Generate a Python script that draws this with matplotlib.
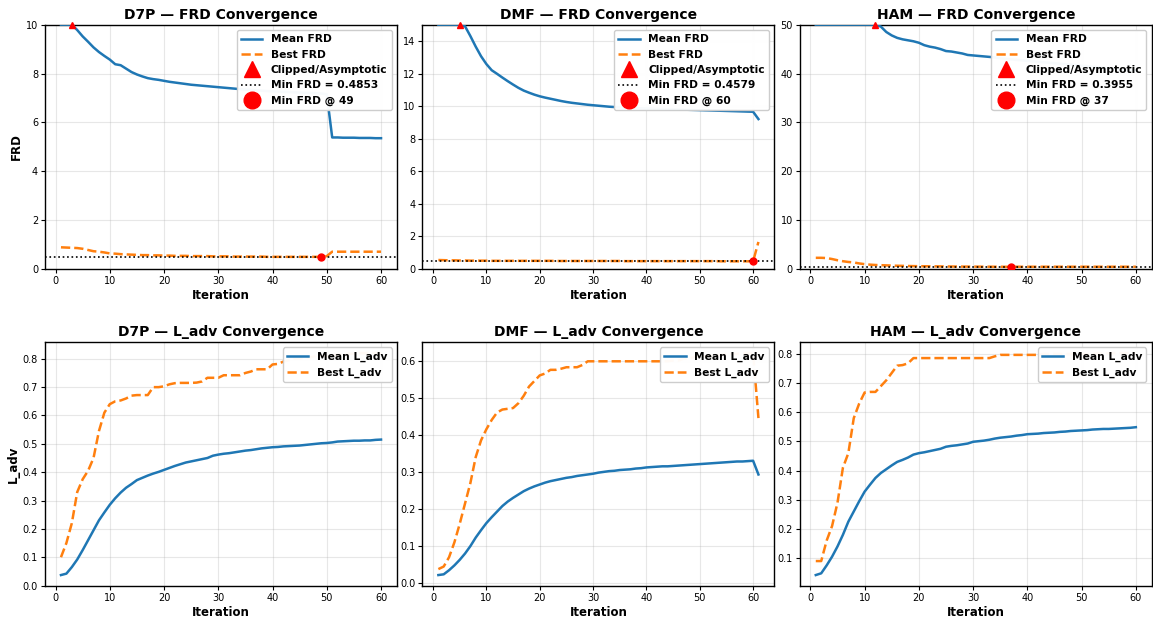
import numpy as np
import matplotlib
matplotlib.use("Agg")
import matplotlib.pyplot as plt

datasets = ["D7P", "DMF", "HAM"]
frd_caps = [10, 15, 50]

# ---- FRD per iteration (mean values already clipped at the cap) ----
d7p_mean_frd = [10.0, 10.0, 10.0, 9.78, 9.52, 9.3, 9.07, 8.88, 8.72, 8.57,
                8.38, 8.34, 8.2, 8.06, 7.96, 7.88, 7.81, 7.77, 7.74, 7.7,
                7.66, 7.63, 7.6, 7.57, 7.54, 7.52, 7.5, 7.48, 7.46, 7.44,
                7.42, 7.4, 7.38, 7.36, 7.34, 7.33, 7.31, 7.3, 7.28, 7.27,
                7.26, 7.25, 7.24, 7.23, 7.22, 7.21, 7.2, 7.19, 7.18, 7.15,
                5.38, 5.38, 5.37, 5.37, 5.37, 5.36, 5.36, 5.36, 5.35, 5.35]
d7p_best_frd = [0.88, 0.87, 0.86, 0.85, 0.82, 0.77, 0.72, 0.7, 0.67, 0.63,
                0.62, 0.6, 0.59, 0.58, 0.57, 0.56, 0.56, 0.55, 0.55, 0.54,
                0.54, 0.53, 0.53, 0.53, 0.52, 0.52, 0.52, 0.52, 0.51, 0.51,
                0.51, 0.51, 0.5, 0.5, 0.5, 0.5, 0.5, 0.5, 0.49, 0.49,
                0.49, 0.49, 0.49, 0.49, 0.49, 0.49, 0.49, 0.49, 0.4853, 0.52,
                0.7, 0.7, 0.7, 0.7, 0.7, 0.7, 0.7, 0.7, 0.7, 0.7]

dmf_mean_frd = [15.0, 15.0, 15.0, 15.0, 15.0, 14.9, 14.3, 13.65, 13.06, 12.58,
                12.2, 11.98, 11.75, 11.53, 11.32, 11.12, 10.95, 10.82, 10.7, 10.6,
                10.52, 10.45, 10.38, 10.31, 10.25, 10.2, 10.16, 10.12, 10.08, 10.05,
                10.02, 9.99, 9.96, 9.94, 9.92, 9.9, 9.88, 9.87, 9.86, 9.85,
                9.84, 9.83, 9.82, 9.81, 9.8, 9.79, 9.78, 9.77, 9.76, 9.75,
                9.74, 9.73, 9.72, 9.71, 9.7, 9.69, 9.68, 9.67, 9.66, 9.65, 9.2]
dmf_best_frd = [0.54, 0.53, 0.52, 0.52, 0.51, 0.51, 0.5, 0.5, 0.5, 0.5,
                0.49, 0.49, 0.49, 0.49, 0.49, 0.49, 0.49, 0.49, 0.49, 0.49,
                0.49, 0.49, 0.48, 0.48, 0.48, 0.48, 0.48, 0.48, 0.48, 0.48,
                0.48, 0.48, 0.48, 0.48, 0.48, 0.47, 0.47, 0.47, 0.47, 0.47,
                0.47, 0.47, 0.47, 0.47, 0.47, 0.47, 0.47, 0.47, 0.47, 0.47,
                0.47, 0.47, 0.47, 0.46, 0.46, 0.46, 0.46, 0.46, 0.46, 0.4579, 1.65]

ham_mean_frd = [50.0, 50.0, 50.0, 50.0, 50.0, 50.0, 50.0, 50.0, 50.0, 50.0,
                50.0, 50.0, 49.6, 48.5, 47.8, 47.3, 47.0, 46.8, 46.6, 46.3,
                45.8, 45.5, 45.3, 45.0, 44.6, 44.5, 44.3, 44.1, 43.8, 43.7,
                43.6, 43.5, 43.4, 43.3, 43.1, 43.0, 42.9, 42.8, 42.7, 42.6,
                42.5, 42.4, 42.3, 42.2, 42.1, 42.0, 41.9, 41.8, 41.7, 41.6,
                41.5, 41.4, 41.3, 41.2, 41.1, 41.0, 40.9, 40.8, 40.7, 40.6]
ham_best_frd = [2.25, 2.25, 2.2, 2.0, 1.75, 1.55, 1.4, 1.3, 1.1, 0.95,
                0.85, 0.78, 0.74, 0.7, 0.66, 0.62, 0.6, 0.57, 0.55, 0.53,
                0.52, 0.51, 0.5, 0.49, 0.48, 0.47, 0.46, 0.45, 0.45, 0.44,
                0.44, 0.43, 0.43, 0.42, 0.42, 0.41, 0.3955, 0.42, 0.42, 0.42,
                0.42, 0.42, 0.42, 0.42, 0.42, 0.42, 0.42, 0.42, 0.42, 0.42,
                0.42, 0.42, 0.42, 0.42, 0.42, 0.42, 0.42, 0.42, 0.42, 0.42]

# ---- L_adv per iteration ----
d7p_mean_ladv = [0.037, 0.042, 0.065, 0.092, 0.125, 0.16, 0.195, 0.23, 0.258, 0.285,
                 0.308, 0.328, 0.345, 0.358, 0.372, 0.38, 0.388, 0.395, 0.401, 0.408,
                 0.415, 0.422, 0.428, 0.434, 0.438, 0.442, 0.446, 0.45, 0.458, 0.462,
                 0.465, 0.467, 0.47, 0.473, 0.476, 0.478, 0.481, 0.484, 0.486, 0.488,
                 0.489, 0.491, 0.492, 0.493, 0.494, 0.496, 0.498, 0.5, 0.502, 0.503,
                 0.505, 0.508, 0.509, 0.51, 0.511, 0.511, 0.512, 0.512, 0.514, 0.515]
d7p_best_ladv = [0.1, 0.15, 0.22, 0.33, 0.375, 0.405, 0.45, 0.545, 0.61, 0.64,
                 0.65, 0.653, 0.66, 0.67, 0.672, 0.672, 0.672, 0.7, 0.7, 0.703,
                 0.71, 0.714, 0.715, 0.715, 0.715, 0.716, 0.72, 0.733, 0.733, 0.733,
                 0.742, 0.742, 0.742, 0.742, 0.75, 0.755, 0.763, 0.763, 0.763, 0.78,
                 0.782, 0.79, 0.795, 0.8, 0.8, 0.805, 0.805, 0.81, 0.81, 0.81,
                 0.812, 0.815, 0.815, 0.818, 0.818, 0.82, 0.82, 0.82, 0.82, 0.82]

dmf_mean_ladv = [0.022, 0.024, 0.035, 0.048, 0.063, 0.08, 0.1, 0.123, 0.143, 0.162,
                 0.178, 0.193, 0.208, 0.22, 0.23, 0.239, 0.248, 0.255, 0.261, 0.266,
                 0.271, 0.275, 0.278, 0.281, 0.284, 0.286, 0.289, 0.291, 0.293, 0.295,
                 0.298, 0.3, 0.302, 0.303, 0.305, 0.306, 0.307, 0.309, 0.31, 0.312,
                 0.313, 0.314, 0.315, 0.315, 0.316, 0.317, 0.318, 0.319, 0.32, 0.321,
                 0.322, 0.323, 0.324, 0.325, 0.326, 0.327, 0.328, 0.328, 0.329, 0.33, 0.293]
dmf_best_ladv = [0.038, 0.045, 0.07, 0.11, 0.16, 0.215, 0.27, 0.34, 0.385, 0.415,
                 0.44, 0.46, 0.468, 0.47, 0.472, 0.485, 0.505, 0.53, 0.545, 0.56,
                 0.565, 0.575, 0.575, 0.578, 0.582, 0.582, 0.582, 0.588, 0.598, 0.598,
                 0.598, 0.598, 0.598, 0.598, 0.598, 0.598, 0.598, 0.598, 0.598, 0.598,
                 0.598, 0.598, 0.598, 0.598, 0.6, 0.6, 0.605, 0.605, 0.61, 0.61,
                 0.612, 0.612, 0.615, 0.615, 0.618, 0.618, 0.618, 0.62, 0.62, 0.62, 0.445]

ham_mean_ladv = [0.042, 0.048, 0.075, 0.105, 0.14, 0.18, 0.225, 0.26, 0.295, 0.328,
                 0.352, 0.375, 0.392, 0.405, 0.418, 0.43, 0.437, 0.445, 0.455, 0.46,
                 0.463, 0.467, 0.471, 0.475, 0.482, 0.485, 0.487, 0.49, 0.493, 0.499,
                 0.501, 0.503, 0.506, 0.51, 0.513, 0.515, 0.517, 0.52, 0.522, 0.525,
                 0.526, 0.527, 0.529, 0.53, 0.531, 0.533, 0.534, 0.536, 0.537, 0.538,
                 0.539, 0.541, 0.542, 0.543, 0.543, 0.544, 0.545, 0.546, 0.547, 0.549]
ham_best_ladv = [0.09, 0.09, 0.16, 0.21, 0.29, 0.41, 0.46, 0.58, 0.63, 0.668,
                 0.67, 0.67, 0.69, 0.71, 0.735, 0.76, 0.762, 0.768, 0.786, 0.786,
                 0.786, 0.786, 0.786, 0.786, 0.786, 0.786, 0.786, 0.786, 0.786, 0.786,
                 0.786, 0.786, 0.786, 0.792, 0.797, 0.797, 0.797, 0.797, 0.797, 0.797,
                 0.797, 0.797, 0.8, 0.8, 0.8, 0.8, 0.8, 0.8, 0.8, 0.8,
                 0.8, 0.8, 0.802, 0.802, 0.802, 0.803, 0.803, 0.803, 0.803, 0.803]

mean_frd = [d7p_mean_frd, dmf_mean_frd, ham_mean_frd]
best_frd = [d7p_best_frd, dmf_best_frd, ham_best_frd]
mean_ladv = [d7p_mean_ladv, dmf_mean_ladv, ham_mean_ladv]
best_ladv = [d7p_best_ladv, dmf_best_ladv, ham_best_ladv]

plt.rcParams['font.family'] = 'DejaVu Sans'
fig, axes = plt.subplots(2, 3, figsize=(11.53, 6.17), dpi=100)
fig.subplots_adjust(left=0.039, right=0.999, bottom=0.05, top=0.96,
                    wspace=0.072, hspace=0.30)

leg_kw = dict(loc='upper right', prop={'weight': 'bold', 'size': 7.7},
              handlelength=2.0, borderpad=0.4, labelspacing=0.5,
              markerscale=2.4, framealpha=0.97)

for i, name in enumerate(datasets):
    cap = frd_caps[i]
    mf = np.array(mean_frd[i])
    bf = np.array(best_frd[i])
    it = np.arange(1, len(mf) + 1)

    ax = axes[0, i]
    ax.plot(it, mf, '-', color='tab:blue', lw=1.8, label='Mean FRD', zorder=3)
    ax.plot(it, bf, '--', color='tab:orange', lw=1.8, label='Best FRD')
    clipped = np.where(mf >= cap)[0]
    if len(clipped):
        k = clipped[-1]
        ax.plot(it[k], mf[k], '^', color='red', ms=5, clip_on=False,
                zorder=5, label='Clipped/Asymptotic')
    j = int(np.argmin(bf))
    ax.axhline(bf[j], color='black', ls=':', lw=1.2, label=f'Min FRD = {bf[j]:.4f}')
    ax.plot(it[j], bf[j], 'o', color='red', ms=5, zorder=5, label=f'Min FRD @ {it[j]}')
    ax.set_ylim(0, cap)
    ax.set_title(f'{name} — FRD Convergence', fontsize=10, fontweight='bold', pad=4)
    ax.set_xlabel('Iteration', fontsize=8.5, fontweight='bold', labelpad=2)
    if i == 0:
        ax.set_ylabel('FRD', fontsize=8.5, fontweight='bold', labelpad=2)
    ax.grid(True, alpha=0.3)
    ax.legend(**leg_kw)

    ml = np.array(mean_ladv[i])
    bl = np.array(best_ladv[i])
    it2 = np.arange(1, len(ml) + 1)
    ax = axes[1, i]
    ax.plot(it2, ml, '-', color='tab:blue', lw=1.8, label='Mean L_adv')
    ax.plot(it2, bl, '--', color='tab:orange', lw=1.8, label='Best L_adv')
    ax.set_title(f'{name} — L_adv Convergence', fontsize=10, fontweight='bold', pad=4)
    ax.set_xlabel('Iteration', fontsize=8.5, fontweight='bold', labelpad=2)
    if i == 0:
        ax.set_ylabel('L_adv', fontsize=8.5, fontweight='bold', labelpad=2)
    ax.grid(True, alpha=0.3)
    ax.legend(**leg_kw)

for ax in axes.flat:
    ax.tick_params(labelsize=7, length=3, pad=2)
    for s in ax.spines.values():
        s.set_linewidth(1.0)

fig.savefig('out.png', dpi=100)
